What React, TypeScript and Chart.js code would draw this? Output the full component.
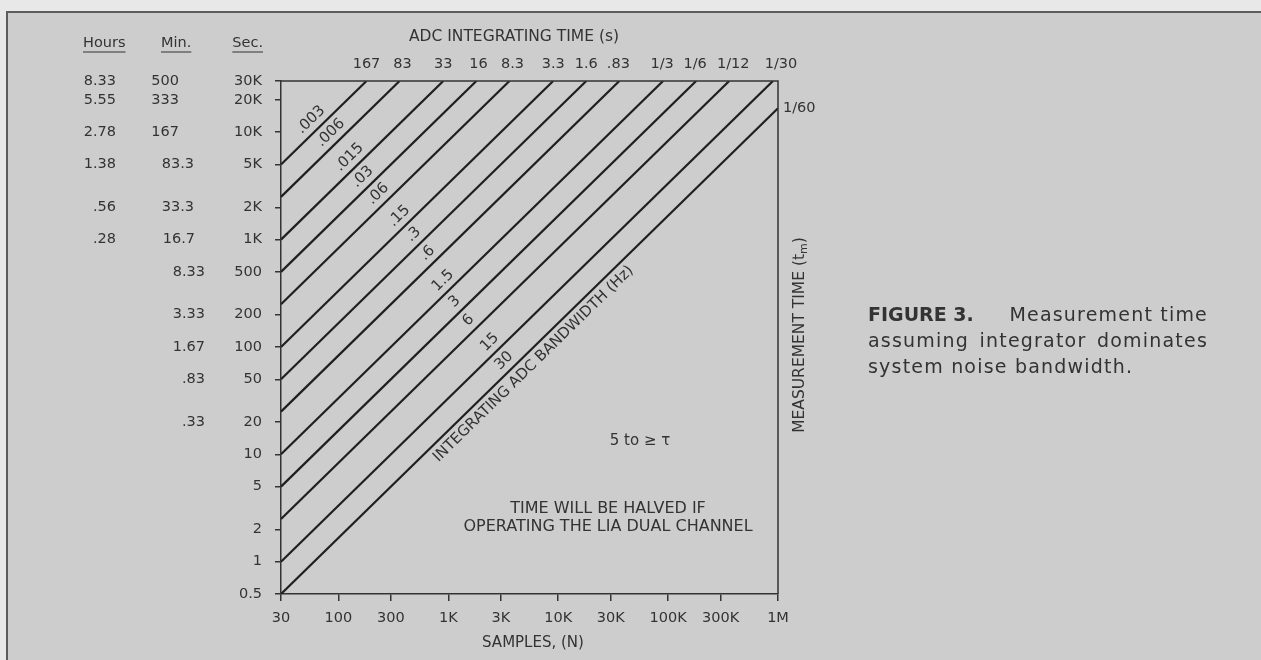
import React, { useEffect, useRef } from "react";
import { Chart, registerables } from "chart.js";

Chart.register(...registerables);

const W = 1261;
const H = 660;
const FONT = '"DejaVu Sans", "Liberation Sans", sans-serif';
const INK = "#333333";
const LINE_COLOR = "#1f1f1f";

// ADC integrating time (s) of each diagonal, read left to right at the top edge
const integratingTimeLabels = ["167", "83", "33", "16", "8.3", "3.3", "1.6", ".83", "1/3", "1/6", "1/12", "1/30", "1/60"];
// integrating ADC bandwidth (Hz) written along each diagonal
const bandwidthLabels = [".003", ".006", ".015", ".03", ".06", ".15", ".3", ".6", "1.5", "3", "6", "15", "30"];
// each diagonal starts at N = 30 samples
const lineStartSamples = 30;
const lineStartTime = [5000, 2500, 1000, 500, 250, 100, 50, 25, 10, 5, 2.5, 1, 0.5];
const lineEndSamples = [180, 360, 900, 1800, 3600, 9000, 18000, 36000, 90000, 180000, 360000, 900000, 1000000];
const lineEndTime = [30000, 30000, 30000, 30000, 30000, 30000, 30000, 30000, 30000, 30000, 30000, 30000, 16700];
// sample count where each bandwidth label sits along its diagonal
const bandwidthLabelSamples = [66, 100, 148, 195, 270, 420, 566, 757, 1050, 1340, 1790, 2800, 3770];
const bandwidthTitleSamples = 5000;

const xTickValues = [30, 100, 300, 1000, 3000, 10000, 30000, 100000, 300000, 1000000];
const xTickLabels = ["30", "100", "300", "1K", "3K", "10K", "30K", "100K", "300K", "1M"];
const yTickValues = [0.5, 1, 2, 5, 10, 20, 50, 100, 200, 500, 1000, 2000, 5000, 10000, 20000, 30000];
const yTickLabels = ["0.5", "1", "2", "5", "10", "20", "50", "100", "200", "500", "1K", "2K", "5K", "10K", "20K", "30K"];

const minuteValues = [30000, 20000, 10000, 5000, 2000, 1000, 500, 200, 100, 50, 20];
const minuteLabels = ["500", "333", "167", "83.3", "33.3", "16.7", "8.33", "3.33", "1.67", ".83", ".33"];
const hourValues = [30000, 20000, 10000, 5000, 2000, 1000];
const hourLabels = ["8.33", "5.55", "2.78", "1.38", ".56", ".28"];

const topLabelNudge = [0, 3, 0, 2, 3, 0, 0, -1, -1, -1, 4, 8];
const minuteRightEdge = [179, 179, 179, 194, 194, 195, 205, 205, 205, 205, 205];

function txt(
  ctx: CanvasRenderingContext2D,
  s: string,
  x: number,
  y: number,
  size: number,
  align: CanvasTextAlign = "left",
  baseline: CanvasTextBaseline = "middle",
  weight = "normal"
) {
  ctx.font = `${weight} ${size}px ${FONT}`;
  ctx.textAlign = align;
  ctx.textBaseline = baseline;
  ctx.fillText(s, x, y);
}

const paperPlugin = {
  id: "paper",
  beforeDraw(chart: any) {
    const ctx = chart.ctx as CanvasRenderingContext2D;
    ctx.save();
    ctx.fillStyle = "#e8e8e8";
    ctx.fillRect(0, 0, W, H);
    ctx.fillStyle = "#cdcdcd";
    ctx.fillRect(7, 12, W - 7, H - 12);
    ctx.strokeStyle = "#5c5c5c";
    ctx.lineWidth = 2;
    ctx.beginPath();
    ctx.moveTo(7, H);
    ctx.lineTo(7, 12);
    ctx.lineTo(W, 12);
    ctx.stroke();
    ctx.restore();
  },
};

const annotatePlugin = {
  id: "annotate",
  afterDraw(chart: any) {
    const ctx = chart.ctx as CanvasRenderingContext2D;
    const xs = chart.scales.x;
    const ys = chart.scales.y;
    const area = chart.chartArea;
    ctx.save();
    ctx.fillStyle = INK;
    ctx.strokeStyle = INK;

    // top and right edges of the frame
    ctx.lineWidth = 1.5;
    ctx.beginPath();
    ctx.moveTo(area.left, area.top);
    ctx.lineTo(area.right, area.top);
    ctx.lineTo(area.right, area.bottom);
    ctx.stroke();

    // titles
    txt(ctx, "ADC INTEGRATING TIME (s)", 514, 37, 15.5, "center");
    txt(ctx, "SAMPLES, (N)", 533, 643, 15, "center");

    // integrating time labels at the top of each diagonal
    for (let i = 0; i < 12; i++) {
      const px = xs.getPixelForValue(lineEndSamples[i]) + topLabelNudge[i];
      txt(ctx, integratingTimeLabels[i], px, 64, 14.5, "center");
    }
    const last = integratingTimeLabels.length - 1;
    txt(ctx, integratingTimeLabels[last], area.right + 5, ys.getPixelForValue(lineEndTime[last]) + 0, 14.5, "left");

    // column headers
    const header = (s: string, x: number, align: CanvasTextAlign) => {
      ctx.font = `normal 14.5px ${FONT}`;
      const w = ctx.measureText(s).width;
      txt(ctx, s, x, 43, 14.5, align);
      const x0 = align === "right" ? x - w : x;
      ctx.lineWidth = 1;
      ctx.beginPath();
      ctx.moveTo(x0, 52);
      ctx.lineTo(x0 + w, 52);
      ctx.stroke();
    };
    header("Hours", 83, "left");
    header("Min.", 161, "left");
    header("Sec.", 263, "right");

    for (let i = 0; i < hourLabels.length; i++) {
      txt(ctx, hourLabels[i], 116, ys.getPixelForValue(hourValues[i]), 14.5, "right");
    }
    for (let i = 0; i < minuteLabels.length; i++) {
      txt(ctx, minuteLabels[i], minuteRightEdge[i], ys.getPixelForValue(minuteValues[i]), 14.5, "right");
    }

    // bandwidth labels along diagonals
    const onLine = (i: number, n: number) => {
      const x0 = xs.getPixelForValue(lineStartSamples);
      const y0 = ys.getPixelForValue(lineStartTime[i]);
      const x1 = xs.getPixelForValue(lineEndSamples[i]);
      const y1 = ys.getPixelForValue(lineEndTime[i]);
      const px = xs.getPixelForValue(n);
      const f = (px - x0) / (x1 - x0);
      return { x: px, y: y0 + f * (y1 - y0), a: Math.atan2(y1 - y0, x1 - x0) };
    };
    for (let i = 0; i < bandwidthLabels.length; i++) {
      const p = onLine(i, bandwidthLabelSamples[i]);
      const off = 11;
      const nx = Math.sin(p.a);
      const ny = -Math.cos(p.a);
      ctx.save();
      ctx.translate(p.x + nx * off, p.y + ny * off);
      ctx.rotate(p.a);
      txt(ctx, bandwidthLabels[i], 0, 0, 15, "center");
      ctx.restore();
    }
    {
      const p = onLine(last, bandwidthTitleSamples);
      const off = -12;
      ctx.save();
      ctx.translate(p.x + Math.sin(p.a) * off, p.y - Math.cos(p.a) * off);
      ctx.rotate(p.a);
      txt(ctx, "INTEGRATING ADC BANDWIDTH (Hz)", 0, 0, 15, "center");
      ctx.restore();
    }

    // notes
    txt(ctx, "5 to \u2265 \u03c4", 640, 441, 15, "center");
    txt(ctx, "TIME WILL BE HALVED IF", 608, 509, 16, "center");
    txt(ctx, "OPERATING THE LIA DUAL CHANNEL", 608, 527, 16, "center");

    // right axis title, rotated
    ctx.save();
    ctx.translate(800, 335);
    ctx.rotate(-Math.PI / 2);
    ctx.font = `normal 15.5px ${FONT}`;
    const a = "MEASUREMENT TIME (t";
    const wa = ctx.measureText(a).width;
    ctx.font = `normal 11px ${FONT}`;
    const wm = ctx.measureText("m").width;
    ctx.font = `normal 15.5px ${FONT}`;
    const wc = ctx.measureText(")").width;
    const total = wa + wm + wc;
    let cx = -total / 2;
    txt(ctx, a, cx, 0, 15.5, "left");
    cx += wa;
    txt(ctx, "m", cx, 4, 11, "left");
    cx += wm;
    txt(ctx, ")", cx, 0, 15.5, "left");
    ctx.restore();

    // caption
    const cl = 868;
    const cr = 1208;
    txt(ctx, "FIGURE 3.", cl, 321, 19, "left", "alphabetic", "bold");
    (ctx as any).letterSpacing = "1.2px";
    txt(ctx, "Measurement time", cr, 321, 19, "right", "alphabetic");
    const words = ["assuming", "integrator", "dominates"];
    ctx.font = `normal 19px ${FONT}`;
    const ww = words.map((w) => ctx.measureText(w).width);
    const gap = (cr - cl - ww.reduce((s, v) => s + v, 0)) / (words.length - 1);
    let wx = cl;
    words.forEach((w, i) => {
      txt(ctx, w, wx, 347, 19, "left", "alphabetic");
      wx += ww[i] + gap;
    });
    txt(ctx, "system noise bandwidth.", cl, 373, 19, "left", "alphabetic");
    (ctx as any).letterSpacing = "0px";
    ctx.restore();
  },
};

export default function App() {
  const ref = useRef<HTMLCanvasElement>(null);
  useEffect(() => {
    const canvas = ref.current!;
    const datasets = integratingTimeLabels.map((lbl, i) => ({
      label: lbl,
      data: [
        { x: lineStartSamples, y: lineStartTime[i] },
        { x: lineEndSamples[i], y: lineEndTime[i] },
      ],
      borderColor: LINE_COLOR,
      borderWidth: 2.2,
      pointRadius: 0,
      fill: false,
      tension: 0,
    }));
    const tickFont = { family: FONT, size: 14.5 };
    const chart = new Chart(canvas, {
      type: "line",
      data: { datasets },
      options: {
        responsive: false,
        maintainAspectRatio: false,
        animation: false,
        devicePixelRatio: 1,
        layout: { padding: { left: 0, top: 81, right: 483, bottom: 0 } },
        plugins: { legend: { display: false }, tooltip: { enabled: false } },
        scales: {
          x: {
            type: "logarithmic",
            position: "bottom",
            min: 30,
            max: 1000000,
            afterBuildTicks: (s: any) => {
              s.ticks = xTickValues.map((v) => ({ value: v }));
            },
            afterFit: (s: any) => {
              s.height = 66;
            },
            ticks: {
              autoSkip: false,
              maxRotation: 0,
              minRotation: 0,
              padding: 9,
              color: INK,
              font: tickFont,
              callback: (_v: any, i: number) => xTickLabels[i],
            },
            grid: { drawOnChartArea: false, drawTicks: true, tickLength: 7, color: INK, lineWidth: 1.5 },
            border: { display: true, color: INK, width: 1.5 },
          },
          y: {
            type: "logarithmic",
            position: "left",
            min: 0.5,
            max: 30000,
            afterBuildTicks: (s: any) => {
              s.ticks = yTickValues.map((v) => ({ value: v }));
            },
            afterFit: (s: any) => {
              s.width = 281;
            },
            ticks: {
              autoSkip: false,
              padding: 13,
              color: INK,
              font: tickFont,
              callback: (_v: any, i: number) => yTickLabels[i],
            },
            grid: { drawOnChartArea: false, drawTicks: true, tickLength: 6, color: INK, lineWidth: 1.5 },
            border: { display: true, color: INK, width: 1.5 },
          },
        },
      } as any,
      plugins: [paperPlugin, annotatePlugin],
    });
    return () => chart.destroy();
  }, []);
  return (
    <div style={{ position: "fixed", left: 0, top: 0, width: W, height: H }}>
      <canvas ref={ref} width={W} height={H} style={{ width: W, height: H, display: "block" }} />
    </div>
  );
}
